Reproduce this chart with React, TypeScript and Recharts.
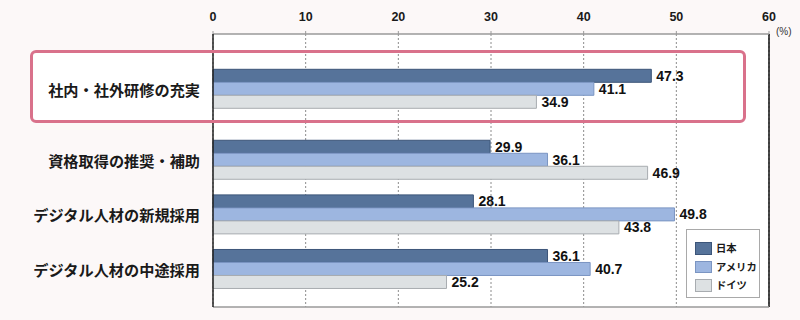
import React from 'react';
import {
  BarChart, Bar, XAxis, YAxis, CartesianGrid, LabelList, Legend, ReferenceLine,
} from 'recharts';

const categories = ['社内・社外研修の充実', '資格取得の推奨・補助', 'デジタル人材の新規採用', 'デジタル人材の中途採用'];
const japan = [47.3, 29.9, 28.1, 36.1];
const usa = [41.1, 36.1, 49.8, 40.7];
const germany = [34.9, 46.9, 43.8, 25.2];
const xTicks = [0, 10, 20, 30, 40, 50, 60];

// first (highlighted) group is set a little apart from the others
const rows = categories.map((name, i) => ({
  name,
  pos: i === 0 ? 1 : i + 1.3,
  japan: japan[i],
  usa: usa[i],
  germany: germany[i],
}));
const yTicks = rows.map((r) => r.pos);
const nameAt = (v: number) => {
  const r = rows.find((row) => Math.abs(row.pos - v) < 1e-6);
  return r ? r.name : '';
};

const LATIN = '"Liberation Sans", Arial, Helvetica, sans-serif';
const CJK = '"Noto Sans CJK JP", "Noto Sans", sans-serif';

const series = [
  { key: 'japan', name: '日本', fill: '#56739a', stroke: '#3c5579' },
  { key: 'usa', name: 'アメリカ', fill: '#9db6e0', stroke: '#7b95c2' },
  { key: 'germany', name: 'ドイツ', fill: '#dde1e3', stroke: '#a8acb0' },
];

const CatTick = (props: any) => {
  const { x, y, payload } = props;
  return (
    <text
      x={x}
      y={y}
      textAnchor="end"
      dominantBaseline="central"
      fontFamily={CJK}
      fontWeight={700}
      fontSize={15.2}
      fill="#1a1a1a"
    >
      {nameAt(payload.value)}
    </text>
  );
};

const LegendBox = () => (
  <div
    style={{
      width: 74,
      height: 69,
      boxSizing: 'border-box',
      border: '1px solid #a9a9a9',
      background: '#ffffff',
      padding: '9px 0 0 8px',
    }}
  >
    {series.map((s) => (
      <div key={s.key} style={{ display: 'flex', alignItems: 'center', height: 18.5, whiteSpace: 'nowrap' }}>
        <div
          style={{
            width: 17,
            height: 12.5,
            flex: 'none',
            boxSizing: 'border-box',
            background: s.fill,
            border: `1px solid ${s.stroke}`,
          }}
        />
        <span
          style={{
            marginLeft: 4,
            fontFamily: CJK,
            fontWeight: 700,
            fontSize: 10.3,
            color: '#1a1a1a',
            lineHeight: '12px',
            whiteSpace: 'nowrap',
          }}
        >
          {s.name}
        </span>
      </div>
    ))}
  </div>
);

export default function App() {
  return (
    <div
      style={{
        position: 'absolute',
        left: 0,
        top: 0,
        width: 800,
        height: 320,
        background: '#fcf8f8',
        overflow: 'hidden',
      }}
    >
      {/* white fill of the highlight frame, behind the chart */}
      <div
        style={{
          position: 'absolute',
          left: 29.5,
          top: 50,
          width: 716,
          height: 73,
          background: '#ffffff',
          borderRadius: 6,
        }}
      />
      <div style={{ position: 'absolute', left: 0, top: 0 }}>
        <BarChart
          width={800}
          height={320}
          data={rows}
          layout="vertical"
          margin={{ top: 0, right: 31, bottom: 13, left: 0 }}
          barGap={0}
        >
          <CartesianGrid
            horizontal={false}
            vertical
            strokeDasharray="2 2"
            stroke="#8c8c8c"
            fill="#ffffff"
          />
          <XAxis
            type="number"
            orientation="top"
            domain={[0, 60]}
            ticks={xTicks}
            interval={0}
            height={34}
            axisLine={{ stroke: '#9a9a9a', strokeWidth: 1.5 }}
            tickLine={{ stroke: '#9a9a9a' }}
            tickSize={3}
            tickMargin={10}
            tick={{ fill: '#1a1a1a', fontSize: 12.5, fontFamily: LATIN, fontWeight: 700 }}
          />
          <YAxis
            type="number"
            dataKey="pos"
            domain={[0, 5]}
            ticks={yTicks}
            interval={0}
            width={213}
            axisLine={{ stroke: '#222222', strokeWidth: 1.5 }}
            tickLine={false}
            tickSize={0}
            tickMargin={13}
            tick={<CatTick />}
          />
          <ReferenceLine x={60} stroke="#111111" strokeWidth={1.5} ifOverflow="extendDomain" />
          <ReferenceLine y={5} stroke="#9a9a9a" strokeWidth={1.5} />
          {series.map((s) => (
            <Bar
              key={s.key}
              dataKey={s.key}
              name={s.name}
              fill={s.fill}
              stroke={s.stroke}
              strokeWidth={1}
              barSize={13}
              isAnimationActive={false}
            >
              <LabelList
                dataKey={s.key}
                position="right"
                offset={5}
                fill="#111111"
                fontSize={14}
                fontWeight={700}
                fontFamily={LATIN}
              />
            </Bar>
          ))}
          <Legend
            content={<LegendBox />}
            layout="vertical"
            verticalAlign="middle"
            align="center"
            wrapperStyle={{ position: 'absolute', left: 686, top: 229, width: 74 }}
          />
        </BarChart>
      </div>
      {/* highlight frame stroke, on top */}
      <div
        style={{
          position: 'absolute',
          left: 29.5,
          top: 50,
          width: 716,
          height: 73,
          boxSizing: 'border-box',
          border: '3px solid #d9718b',
          borderRadius: 6,
          pointerEvents: 'none',
        }}
      />
      <div
        style={{
          position: 'absolute',
          left: 776,
          top: 26,
          fontFamily: LATIN,
          fontSize: 10,
          color: '#333333',
        }}
      >
        (%)
      </div>
    </div>
  );
}
